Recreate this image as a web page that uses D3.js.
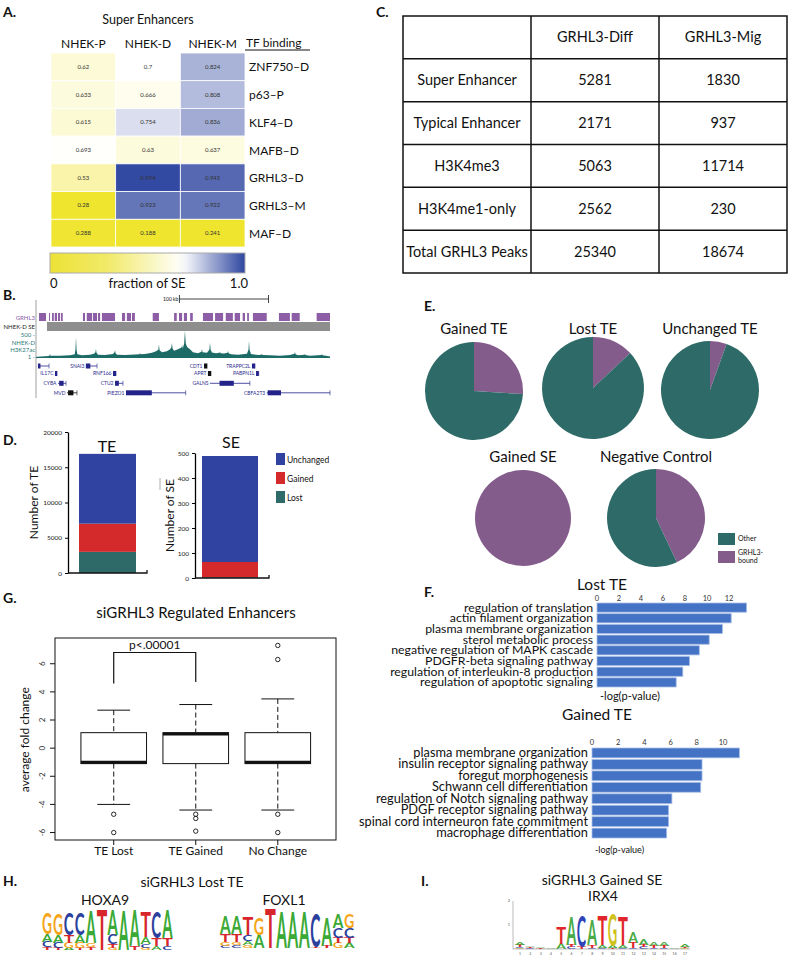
<!DOCTYPE html>
<html>
<head>
<meta charset="utf-8">
<script src="https://cdn.jsdelivr.net/npm/d3@7"></script>
<style>
  body { margin: 0; background: #fff; }
  svg { display: block; }
  text { font-family: Lato, "Open Sans", sans-serif; fill: #111; }
</style>
</head>
<body>
<svg id="fig" width="790" height="960"></svg>
<script>
// ---------------- data ----------------
// A. super enhancer fraction heatmap
var seCols = ["NHEK-P", "NHEK-D", "NHEK-M"];
var seRows = ["ZNF750\u2013D", "p63\u2013P", "KLF4\u2013D", "MAFB\u2013D", "GRHL3\u2013D", "GRHL3\u2013M", "MAF\u2013D"];
var seValues = [
  [0.62, 0.7, 0.824],
  [0.633, 0.666, 0.808],
  [0.615, 0.754, 0.836],
  [0.693, 0.63, 0.637],
  [0.53, 0.994, 0.945],
  [0.28, 0.923, 0.922],
  [0.288, 0.188, 0.241]
];

// B. genome browser (kb)
var grhl3Peaks = [[3.4,11.2],[14.6,15.7],[18,20],[21,23.6],[24.7,27],[28,30],[52.7,55],[57,63],[64,68.5],[69.6,72],[74,88.7],
  [96.5,100],[102,106.6],[107.7,111],[131,138],[155,158],[160.5,164],[166,169.5],[173,176],[187.4,198.7],[201,210],
  [213,221],[223,229],[232,234.6],[237,239],[243.5,259],[272.7,285],[287,296],[315,330]];
var seRegion = [[12.3, 330]];
var h3k27ac = [[0,20],[1.1,25],[10.1,35],[14.5,40],[15.2,50],[15.7,90],[16.2,45],[26.9,45],[38.2,55],[43.5,80],[44.3,180],[44.9,430],
  [45.5,170],[46.5,80],[51.6,55],[60.6,70],[65.1,90],[66.7,120],[67.3,190],[67.9,110],[69.6,70],[77.4,60],[86.4,85],[88.1,120],
  [88.7,160],[89.3,100],[90.9,70],[99.9,65],[111.1,75],[116.2,80],[116.7,110],[117.3,80],[122.3,85],[130.2,110],[134.7,140],
  [137.3,170],[138,280],[138.7,160],[141.4,120],[147,140],[150.4,180],[151.9,220],[152.6,310],[153.3,200],[154.9,150],
  [159.4,180],[163.3,220],[164,270],[164.8,200],[166.3,300],[167.2,570],[168.1,300],[169.6,230],[172.8,180],[176.2,120],
  [181.8,100],[185.7,130],[186.3,190],[186.9,120],[191.9,110],[194.6,170],[195.3,320],[196,170],[197.5,115],[202,100],
  [206,110],[206.5,135],[207,100],[211,95],[215,110],[215.5,145],[216.2,100],[218.9,80],[226.7,70],[236.8,90],[238.5,170],
  [239.1,360],[239.7,170],[241.3,85],[249.2,60],[253.1,70],[253.6,95],[254.1,65],[262.6,55],[273.8,45],[285.1,65],[290.1,90],
  [290.7,125],[291.3,80],[294.1,55],[301.5,70],[301.9,90],[302.4,60],[307.5,45],[316.5,55],[320.5,60],[321,85],[321.5,55],
  [325.5,45],[330,30]];
var geneNames = ["", "SNAI3", "CDT1", "TRAPPC2L", "IL17C", "RNF166", "APRT", "PABPN1L", "CYBA", "CTU2", "GALNS", "MVD", "PIEZO1", "CBFA2T3"];
var geneStart = [2.2, 56, 188.6, 242.4, 21.3, 86.4, 193, 247, 24.7, 88.7, 195.3, 34.8, 101, 259];
var geneEnd   = [14.6, 68.5, 192, 245.8, 23.6, 89.8, 196.4, 250, 33.7, 97.6, 240, 46, 168, 330];
var geneThick = [[2.2,5],[56,61],[188.6,192],[242.4,245.8],[21.3,23.6],[86.4,89.8],[193,196.4],[247,250],[26,31],[88.7,93],[206,222],[36,42],[101,130],[260,275]];
var geneRow   = [0, 0, 0, 0, 1, 1, 1, 1, 2, 2, 2, 3, 3, 3];

// C. table
var tableHead = ["", "GRHL3-Diff", "GRHL3-Mig"];
var tableRows = ["Super Enhancer", "Typical Enhancer", "H3K4me3", "H3K4me1-only", "Total GRHL3 Peaks"];
var tableDiff = [5281, 2171, 5063, 2562, 25340];
var tableMig = [1830, 937, 11714, 230, 18674];

// D. stacked counts
var changeKeys = ["Lost", "Gained", "Unchanged"];
var teCounts = [3000, 4000, 9900];
var seCounts = [3, 61, 424];

// E. fraction of GRHL3-bound
var pieTitles = ["Gained TE", "Lost TE", "Unchanged TE", "Gained SE", "Negative Control"];
var pieBound = [0.26, 0.13, 0.055, 1.0, 0.43];

// F. GO terms, -log(p)
var lostTerms = ["regulation of translation", "actin filament organization", "plasma membrane organization", "sterol metabolic process",
  "negative regulation of MAPK cascade", "PDGFR-beta signaling pathway", "regulation of interleukin-8 production", "regulation of apoptotic signaling"];
var lostScores = [13.6, 12.2, 11.4, 10.2, 9.3, 8.4, 7.8, 7.2];
var gainedTerms = ["plasma membrane organization", "insulin receptor signaling pathway", "foregut morphogenesis", "Schwann cell differentiation",
  "regulation of Notch signaling pathway", "PDGF receptor signaling pathway", "spinal cord interneuron fate commitment", "macrophage differentiation"];
var gainedScores = [11.25, 8.4, 8.4, 8.3, 6.1, 5.85, 5.85, 5.7];

// G. box plot stats
var boxGroups = ["TE Lost", "TE Gained", "No Change"];
var boxLow = [-4.0, -4.4, -4.4];
var boxQ1 = [-1.1, -1.1, -1.1];
var boxMed = [-1.0, 1.0, -1.0];
var boxQ3 = [1.1, 1.1, 1.1];
var boxHigh = [2.7, 3.1, 3.5];
var boxOut = [[-4.7, -6.0], [-4.7, -5.0, -5.9], [-4.7, -6.0, 6.3, 7.3]];
var boxTicks = [-6, -4, -2, 0, 2, 4, 6];

// H/I. motif logos (bits)
var hoxa9 = [
  [["G",1.05],["A",0.4],["C",0.25],["T",0.15]],
  [["G",1.05],["A",0.4],["C",0.25],["T",0.12]],
  [["C",1.1],["T",0.4],["G",0.25],["A",0.1]],
  [["C",1.1],["A",0.4],["G",0.25],["T",0.12]],
  [["A",1.6],["G",0.2],["T",0.15]],
  [["T",2.0]],
  [["A",1.2],["C",0.45],["T",0.2],["G",0.1]],
  [["A",1.95]],
  [["A",1.75],["T",0.2]],
  [["T",1.2],["A",0.35],["C",0.2],["G",0.1]],
  [["C",1.3],["T",0.4],["A",0.2]],
  [["A",1.35],["T",0.4],["C",0.2]]
];
var foxl1 = [
  [["A",0.9],["T",0.4],["G",0.2],["C",0.1]],
  [["A",0.9],["T",0.4],["C",0.15],["G",0.15]],
  [["T",0.9],["C",0.3],["A",0.2],["G",0.15]],
  [["G",0.8],["A",0.65]],
  [["T",1.9]],
  [["A",1.8]],
  [["A",1.8]],
  [["A",1.75]],
  [["C",1.65],["T",0.05]],
  [["A",1.35],["T",0.1]],
  [["A",0.65],["C",0.5],["G",0.25],["T",0.25]],
  [["G",0.65],["C",0.5],["A",0.25],["T",0.25]]
];
var irx4 = [
  [["A",0.12],["T",0.08],["G",0.04],["C",0.04]],
  [["A",0.05],["T",0.04],["C",0.03]],
  [["A",0.04],["T",0.03]],
  [["A",0.03],["T",0.02]],
  [["T",0.7],["A",0.2]],
  [["A",1.15],["T",0.1],["C",0.08]],
  [["C",1.25],["T",0.1]],
  [["A",1.05],["T",0.12],["C",0.06]],
  [["T",1.2],["A",0.1],["C",0.05]],
  [["G",1.3],["A",0.08],["T",0.05]],
  [["T",1.15],["A",0.1],["C",0.05]],
  [["A",0.45],["T",0.2],["C",0.05]],
  [["A",0.22],["T",0.1],["C",0.08]],
  [["A",0.15],["T",0.08],["C",0.05]],
  [["A",0.18],["T",0.08],["C",0.04]],
  [["A",0.03]],
  [["A",0.12],["T",0.06],["G",0.04]]
];

// ---------------- drawing ----------------
var svg = d3.select("#fig");
var NARROW = "'Liberation Sans Narrow', 'DejaVu Sans Condensed', sans-serif";
var TEAL = "#2e6b68", PURPLE = "#835c8c";

function panelLabel(t, x, y) {
  svg.append("text").attr("x", x).attr("y", y).attr("font-size", 14).attr("font-weight", "bold").text(t);
}
function txt(t, x, y, size, anchor) {
  return svg.append("text").attr("x", x).attr("y", y).attr("font-size", size)
    .attr("text-anchor", anchor || "start").text(t);
}

// ----- A -----
panelLabel("A.", 3, 17);
txt("Super Enhancers", 148, 24, 12.5, "middle");
var ax = d3.scaleBand().domain(seCols).range([51, 245]);
var ay = d3.scaleBand().domain(seRows).range([53, 247]);
var seColor = d3.scaleLinear().domain([0.28, 0.7, 1.0]).range(["#efe52e", "#ffffff", "#2f46a0"]).clamp(true);
var cells = [];
seRows.forEach(function (r, i) { seCols.forEach(function (c, j) { cells.push({row: r, col: c, v: seValues[i][j]}); }); });
var gA = svg.append("g");
gA.selectAll("rect").data(cells).enter().append("rect")
  .attr("x", d => ax(d.col)).attr("y", d => ay(d.row))
  .attr("width", ax.bandwidth()).attr("height", ay.bandwidth())
  .attr("fill", d => seColor(d.v)).attr("stroke", "#fff").attr("stroke-width", 0.8);
gA.selectAll("text.v").data(cells).enter().append("text").attr("class", "v")
  .attr("x", d => ax(d.col) + ax.bandwidth() / 2).attr("y", d => ay(d.row) + ay.bandwidth() / 2 + 2)
  .attr("text-anchor", "middle").attr("font-size", 6).style("fill", "#333").text(d => d.v);
gA.selectAll("text.c").data(seCols).enter().append("text").attr("class", "c")
  .attr("x", d => ax(d) + ax.bandwidth() / 2).attr("y", 48).attr("text-anchor", "middle")
  .attr("font-size", 12).text(d => d);
gA.selectAll("text.r").data(seRows).enter().append("text").attr("class", "r")
  .attr("x", 249).attr("y", d => ay(d) + ay.bandwidth() / 2 + 4.5).attr("font-size", 12).text(d => d);
txt("TF binding", 246, 47, 12);
svg.append("line").attr("x1", 245).attr("x2", 310).attr("y1", 50).attr("y2", 50).attr("stroke", "#111").attr("stroke-width", 1);
// colour bar
var barColor = d3.scaleLinear().domain([0, 0.3, 0.68, 1]).range(["#ece236", "#f1ea6a", "#ffffff", "#2f46a0"]);
var grad = svg.append("defs").append("linearGradient").attr("id", "seGrad");
grad.selectAll("stop").data(d3.range(0, 1.001, 0.05)).enter().append("stop")
  .attr("offset", d => d).attr("stop-color", d => barColor(d));
svg.append("rect").attr("x", 50).attr("y", 253).attr("width", 195).attr("height", 20)
  .attr("fill", "url(#seGrad)").attr("stroke", "#aaa").attr("stroke-width", 1);
txt("0", 50, 288, 13);
txt("fraction of SE", 147, 288, 13, "middle");
txt("1.0", 248, 288, 13, "end");

// ----- B -----
panelLabel("B.", 3, 300);
var bx = d3.scaleLinear().domain([0, 330]).range([36, 330]);
svg.append("line").attr("x1", 36).attr("x2", 36).attr("y1", 300).attr("y2", 398).attr("stroke", "#888").attr("stroke-width", 0.8);
var sb0 = 161, sb1 = 261;
svg.append("path").attr("d", `M${bx(sb0)},295V303M${bx(sb0)},299H${bx(sb1)}M${bx(sb1)},295V303`).attr("stroke", "#111").attr("stroke-width", 0.8).attr("fill", "none");
txt("100 kb", bx(sb0) - 1, 301, 5, "end");
svg.append("g").selectAll("rect").data(grhl3Peaks).enter().append("rect")
  .attr("x", d => bx(d[0])).attr("width", d => bx(d[1]) - bx(d[0])).attr("y", 313).attr("height", 8).attr("fill", "#8d5ea6");
svg.append("g").selectAll("rect").data(seRegion).enter().append("rect")
  .attr("x", d => bx(d[0])).attr("width", d => bx(d[1]) - bx(d[0])).attr("y", 322).attr("height", 9).attr("fill", "#8e8e8e");
txt("GRHL3", 35, 320, 6, "end").style("fill", "#8d5ea6");
txt("NHEK-D SE", 35, 329, 6, "end").style("fill", "#222");
[["500 -", 337], ["NHEK-D", 345], ["H3K27ac", 352], ["1 -", 359]].forEach(function (l) {
  txt(l[0], 35, l[1], 6, "end").style("fill", "#2a7b78");
});
var sy = d3.scaleLinear().domain([0, 500]).range([358, 334]);
svg.append("path").datum(h3k27ac)
  .attr("d", d3.area().x(d => bx(d[0])).y0(358).y1(d => sy(d[1])))
  .attr("fill", "#1d6b67");
var geneY = [366, 373.5, 383.3, 392.8];
var gG = svg.append("g");
geneNames.forEach(function (n, i) {
  var yy = geneY[geneRow[i]];
  var col = (n === "CDT1" || n === "APRT" || n === "MVD") ? "#111" : "#23238a";
  gG.append("line").attr("x1", bx(geneStart[i])).attr("x2", bx(geneEnd[i])).attr("y1", yy).attr("y2", yy)
    .attr("stroke", col).attr("stroke-width", 0.8);
  gG.append("rect").attr("x", bx(geneThick[i][0])).attr("width", Math.max(1.5, bx(geneThick[i][1]) - bx(geneThick[i][0])))
    .attr("y", yy - 2.5).attr("height", 5).attr("fill", col);
  gG.append("line").attr("x1", bx(geneEnd[i])).attr("x2", bx(geneEnd[i])).attr("y1", yy - 2.5).attr("y2", yy + 2.5)
    .attr("stroke", col).attr("stroke-width", 0.6);
  if (n) gG.append("text").attr("x", bx(geneStart[i]) - 1.5).attr("y", yy + 1.8).attr("text-anchor", "end")
    .attr("font-size", 5).style("fill", "#2b2b8c").text(n);
});

// ----- C -----
panelLabel("C.", 376, 17);
var cx = d3.scaleBand().domain([0, 1, 2]).range([403, 787]);
var cy = d3.scaleBand().domain(d3.range(6)).range([16, 273]);
var gC = svg.append("g");
gC.append("rect").attr("x", 403).attr("y", 16).attr("width", 384).attr("height", 257)
  .attr("fill", "none").attr("stroke", "#111").attr("stroke-width", 1.5);
[1, 2].forEach(function (c) {
  gC.append("line").attr("x1", cx(c)).attr("x2", cx(c)).attr("y1", 16).attr("y2", 273).attr("stroke", "#111").attr("stroke-width", 1.5);
});
d3.range(1, 6).forEach(function (r) {
  gC.append("line").attr("x1", 403).attr("x2", 787).attr("y1", cy(r)).attr("y2", cy(r)).attr("stroke", "#111").attr("stroke-width", 1.5);
});
var tableCells = [];
tableHead.forEach((h, j) => tableCells.push([0, j, h]));
tableRows.forEach(function (r, i) {
  tableCells.push([i + 1, 0, r]); tableCells.push([i + 1, 1, tableDiff[i]]); tableCells.push([i + 1, 2, tableMig[i]]);
});
gC.selectAll("text").data(tableCells).enter().append("text")
  .attr("x", d => cx(d[1]) + cx.bandwidth() / 2).attr("y", d => cy(d[0]) + cy.bandwidth() / 2 + 5)
  .attr("text-anchor", "middle").attr("font-size", 14.5).text(d => d[2]);

// ----- D -----
panelLabel("D.", 3, 445);
var changeColor = d3.scaleOrdinal().domain(changeKeys).range([TEAL, "#d42a2b", "#3043a0"]);
function stackedBar(counts, yMax, ticks, axisX, y0, y1, barX0, barX1, axisEnd, title, titleX, titleY, ylab, ylabX) {
  var row = {}; changeKeys.forEach((k, i) => row[k] = counts[i]);
  var series = d3.stack().keys(changeKeys)([row]);
  var y = d3.scaleLinear().domain([0, yMax]).range([y0, y1]);
  var g = svg.append("g");
  g.selectAll("rect").data(series).enter().append("rect")
    .attr("x", barX0).attr("width", barX1 - barX0)
    .attr("y", d => y(d[0][1])).attr("height", d => y(d[0][0]) - y(d[0][1]))
    .attr("fill", d => changeColor(d.key));
  var axG = g.append("g").attr("transform", `translate(${axisX},0)`)
    .call(d3.axisLeft(y).tickValues(ticks).tickSize(3).tickSizeOuter(0).tickFormat(d3.format("d")));
  axG.select(".domain").attr("stroke-width", 1.3);
  axG.selectAll("text").attr("font-family", NARROW).attr("font-size", 6.5).style("fill", "#222");
  g.append("path").attr("d", `M${axisX},${y0}H${axisEnd}V${y0 - 3}`).attr("stroke", "#111").attr("stroke-width", 1.3).attr("fill", "none");
  g.append("text").attr("x", titleX).attr("y", titleY).attr("text-anchor", "middle").attr("font-size", 16).text(title);
  g.append("text").attr("transform", `translate(${ylabX},${(y0 + y1) / 2}) rotate(-90)`).attr("text-anchor", "middle")
    .attr("font-size", 12).text(ylab);
}
stackedBar(teCounts, 20000, [0, 5000, 10000, 15000, 20000], 68, 573, 432, 79, 136, 147, "TE", 107, 452, "Number of TE", 38);
stackedBar(seCounts, 500, [0, 100, 200, 300, 400, 500], 195, 578, 453, 202, 258, 269, "SE", 231, 448, "Number of SE", 174);
svg.append("line").attr("x1", 160).attr("x2", 160).attr("y1", 478).attr("y2", 490).attr("stroke", "#999").attr("stroke-width", 0.8);
var dLeg = svg.append("g").selectAll("g").data(changeKeys.slice().reverse()).enter().append("g")
  .attr("transform", (d, i) => `translate(276,${453 + i * 19})`);
dLeg.append("rect").attr("width", 9).attr("height", 12).attr("fill", d => changeColor(d));
dLeg.append("text").attr("x", 11).attr("y", 9.5).attr("font-family", NARROW).attr("font-size", 8.5).text(d => d);

// ----- E -----
panelLabel("E.", 424, 311);
var pieCenters = [[474, 391], [593, 388], [710, 390], [523, 518], [656, 518]];
var pieR = [49, 51, 49, 48, 49];
var pieTitleY = [334, 334, 334, 462, 462];
var pie = d3.pie().sort(null).value(d => d);
pieBound.forEach(function (b, i) {
  var g = svg.append("g").attr("transform", `translate(${pieCenters[i][0]},${pieCenters[i][1]})`);
  var arc = d3.arc().innerRadius(0).outerRadius(pieR[i]);
  g.selectAll("path").data(pie([b, 1 - b])).enter().append("path")
    .attr("d", arc).attr("fill", (d, j) => j === 0 ? PURPLE : TEAL);
  svg.append("text").attr("x", pieCenters[i][0]).attr("y", pieTitleY[i]).attr("text-anchor", "middle")
    .attr("font-size", 15).text(pieTitles[i]);
});
var eLeg = svg.append("g").attr("transform", "translate(718,533)");
eLeg.append("rect").attr("width", 17).attr("height", 12).attr("fill", TEAL);
eLeg.append("rect").attr("y", 18).attr("width", 17).attr("height", 12).attr("fill", PURPLE);
eLeg.append("text").attr("x", 20).attr("y", 8).attr("font-size", 7).text("Other");
eLeg.append("text").attr("x", 20).attr("y", 22).attr("font-size", 7).text("GRHL3-");
eLeg.append("text").attr("x", 20).attr("y", 30).attr("font-size", 7).text("bound");

// ----- F -----
panelLabel("F.", 424, 597);
function goBars(terms, scores, x, ticks, yTop, yBot, tickY, title, titleY, xlabY, xlabSize, labSize) {
  var y = d3.scaleBand().domain(terms).range([yTop, yBot]).paddingInner(0.14);
  var g = svg.append("g");
  g.selectAll("rect").data(terms).enter().append("rect")
    .attr("x", x(0)).attr("y", d => y(d)).attr("height", y.bandwidth())
    .attr("width", (d, i) => x(scores[i]) - x(0))
    .attr("fill", "#4472c4").attr("stroke", "#a9bfe6").attr("stroke-width", 0.8);
  g.selectAll("text.t").data(terms).enter().append("text").attr("class", "t")
    .attr("x", x(0) - 4).attr("y", d => y(d) + y.bandwidth() / 2 + 4).attr("text-anchor", "end")
    .attr("font-size", labSize).text(d => d);
  g.selectAll("text.k").data(ticks).enter().append("text").attr("class", "k")
    .attr("x", d => x(d)).attr("y", tickY).attr("text-anchor", "middle")
    .attr("font-family", NARROW).attr("font-size", 7.5).style("fill", "#333").text(d => d);
  g.append("text").attr("x", x(0) + 5).attr("y", titleY).attr("text-anchor", "middle").attr("font-size", 15.5).text(title);
  g.append("text").attr("x", x(0) + 3).attr("y", xlabY).attr("font-size", xlabSize).text("-log(p-value)");
}
goBars(lostTerms, lostScores, d3.scaleLinear().domain([0, 12]).range([597, 729]), [0, 2, 4, 6, 8, 10, 12],
  603, 687, 601, "Lost TE", 590, 700, 11, 12.3);
goBars(gainedTerms, gainedScores, d3.scaleLinear().domain([0, 10]).range([592, 723]), [0, 2, 4, 6, 8, 10],
  748, 838, 745, "Gained TE", 720, 853, 9, 12.8);

// ----- G -----
panelLabel("G.", 3, 603);
txt("siGRHL3 Regulated Enhancers", 196, 618, 15, "middle");
var gx = d3.scaleBand().domain(boxGroups).range([64.5, 327]).padding(0.2);
var gy = d3.scaleLinear().domain([-6.53, 7.83]).range([840, 638]);
var gGp = svg.append("g");
gGp.append("rect").attr("x", 55).attr("y", 638).attr("width", 281).attr("height", 202)
  .attr("fill", "none").attr("stroke", "#111").attr("stroke-width", 1);
boxGroups.forEach(function (grp, i) {
  var x0 = gx(grp), w = gx.bandwidth(), xc = x0 + w / 2;
  gGp.append("line").attr("x1", xc).attr("x2", xc).attr("y1", gy(boxHigh[i])).attr("y2", gy(boxQ3[i]))
    .attr("stroke", "#111").attr("stroke-dasharray", "5,3");
  gGp.append("line").attr("x1", xc).attr("x2", xc).attr("y1", gy(boxQ1[i])).attr("y2", gy(boxLow[i]))
    .attr("stroke", "#111").attr("stroke-dasharray", "5,3");
  [boxHigh[i], boxLow[i]].forEach(function (v) {
    gGp.append("line").attr("x1", xc - w / 4).attr("x2", xc + w / 4).attr("y1", gy(v)).attr("y2", gy(v)).attr("stroke", "#111");
  });
  gGp.append("rect").attr("x", x0).attr("width", w).attr("y", gy(boxQ3[i])).attr("height", gy(boxQ1[i]) - gy(boxQ3[i]))
    .attr("fill", "#fff").attr("stroke", "#111").attr("stroke-width", 1);
  gGp.append("line").attr("x1", x0).attr("x2", x0 + w).attr("y1", gy(boxMed[i])).attr("y2", gy(boxMed[i]))
    .attr("stroke", "#111").attr("stroke-width", 3);
  gGp.selectAll(null).data(boxOut[i]).enter().append("circle")
    .attr("cx", xc).attr("cy", d => gy(d)).attr("r", 2.2).attr("fill", "none").attr("stroke", "#111").attr("stroke-width", 0.9);
  gGp.append("line").attr("x1", xc).attr("x2", xc).attr("y1", 840).attr("y2", 845).attr("stroke", "#111");
  gGp.append("text").attr("x", xc).attr("y", 855).attr("text-anchor", "middle").attr("font-size", 12).text(grp);
});
boxTicks.forEach(function (t) {
  gGp.append("line").attr("x1", 50).attr("x2", 55).attr("y1", gy(t)).attr("y2", gy(t)).attr("stroke", "#111");
  gGp.append("text").attr("transform", `translate(45,${gy(t)}) rotate(-90)`).attr("text-anchor", "middle")
    .attr("font-size", 8).style("fill", "#333").text(t);
});
gGp.append("text").attr("transform", `translate(29,${gy(0.6)}) rotate(-90)`).attr("text-anchor", "middle")
  .attr("font-size", 12).text("average fold change");
var bL = gx("TE Lost") + gx.bandwidth() / 2, bG = gx("TE Gained") + gx.bandwidth() / 2;
gGp.append("path").attr("d", `M${bL},${gy(4.6)}V${gy(6.8)}H${bG}V${gy(4.7)}`).attr("fill", "none").attr("stroke", "#111").attr("stroke-width", 1.2);
gGp.append("text").attr("x", (bL + bG) / 2).attr("y", gy(6.8) - 3).attr("text-anchor", "middle").attr("font-size", 12).text("p<.00001");

// ----- H / I -----
var glyphW = {A: 0.722, C: 0.722, G: 0.778, T: 0.611};
function drawLogo(cols, x0, x1, baseY, pxPerBit, colors) {
  var x = d3.scaleBand().domain(d3.range(cols.length)).range([x0, x1]).paddingInner(0.02);
  var y = d3.scaleLinear().domain([0, 1]).range([0, pxPerBit]);
  var g = svg.append("g");
  cols.forEach(function (stack, i) {
    var yy = baseY;
    stack.slice().sort((a, b) => a[1] - b[1]).forEach(function (s) {
      var h = y(s[1]);
      var w = x.bandwidth();
      g.append("text").text(s[0])
        .attr("transform", `translate(${x(i)},${yy}) scale(${w / (glyphW[s[0]] * 10)},${h / 7.16})`)
        .attr("font-size", 10).attr("font-family", "'Liberation Sans', Arial, sans-serif").attr("font-weight", "bold")
        .style("fill", colors[s[0]]);
      yy -= h;
    });
  });
  return x;
}
var logoColors = {A: "#3aa935", C: "#2b3f9c", G: "#f5a51c", T: "#d7262b"};
panelLabel("H.", 3, 886);
txt("siGRHL3 Lost TE", 192, 887, 14, "middle");
txt("HOXA9", 105, 905, 14, "middle");
txt("FOXL1", 284, 905, 14, "middle");
drawLogo(hoxa9, 42, 173, 950, 20, logoColors);
drawLogo(foxl1, 220, 355, 948, 20, logoColors);

panelLabel("I.", 421, 886);
txt("siGRHL3 Gained SE", 602, 885, 14, "middle");
txt("IRX4", 603, 901, 14, "middle");
var irxColors = {A: "#4aaa46", C: "#2f44b8", G: "#cfc21c", T: "#e0262a"};
var ix = drawLogo(irx4, 515, 690, 949, 24, irxColors);
var iy = d3.scaleLinear().domain([0, 2]).range([949, 901]);
svg.append("line").attr("x1", 513).attr("x2", 513).attr("y1", iy(0)).attr("y2", iy(2)).attr("stroke", "#777").attr("stroke-width", 0.5);
svg.append("line").attr("x1", 513).attr("x2", 690).attr("y1", iy(0)).attr("y2", iy(0)).attr("stroke", "#777").attr("stroke-width", 0.5);
[1, 2].forEach(function (t) {
  svg.append("text").attr("x", 510).attr("y", iy(t) + 1).attr("text-anchor", "end").attr("font-size", 4).style("fill", "#555").text(t);
});
svg.append("g").selectAll("text").data(irx4).enter().append("text")
  .attr("x", (d, i) => ix(i) + ix.bandwidth() / 2).attr("y", 955).attr("text-anchor", "middle")
  .attr("font-size", 3.5).style("fill", "#555").text((d, i) => i + 1);
</script>
</body>
</html>
